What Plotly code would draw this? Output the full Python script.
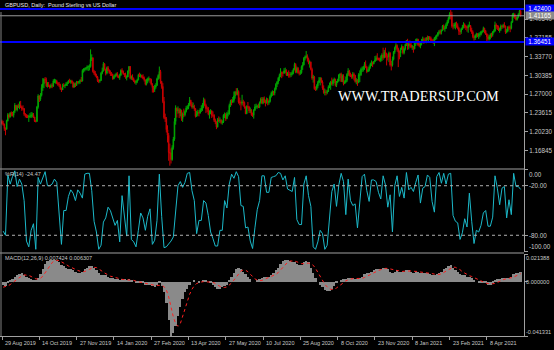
import plotly.graph_objects as go

# ---------------- data (GBPUSD daily) ----------------
FIRST_OPEN = 1.221

CLOSE = [
    1.217, 1.216,
    1.208, 1.207, 1.222, 1.233, 1.229,
    1.236, 1.235, 1.232, 1.239, 1.250,
    1.242, 1.249, 1.247, 1.251, 1.247,
    1.244, 1.244, 1.234, 1.232, 1.229,
    1.229, 1.230, 1.230, 1.233, 1.233,
    1.229, 1.221, 1.221, 1.247, 1.267,
    1.261, 1.268, 1.282, 1.289, 1.297,
    1.296, 1.285, 1.288, 1.285, 1.283,
    1.286, 1.285, 1.294, 1.294, 1.294,
    1.290, 1.288, 1.287, 1.280, 1.278,
    1.286, 1.285, 1.286, 1.289, 1.290,
    1.294, 1.292, 1.294, 1.291, 1.283,
    1.289, 1.286, 1.292, 1.291, 1.293,
    1.295, 1.294, 1.313, 1.315, 1.315,
    1.317, 1.319, 1.320, 1.320, 1.333,
    1.336, 1.311, 1.308, 1.304, 1.301,
    1.294, 1.294, 1.295, 1.308,
    1.312, 1.325, 1.315, 1.308,
    1.318, 1.313, 1.309, 1.307, 1.306,
    1.298, 1.302, 1.304, 1.307, 1.302,
    1.300, 1.304, 1.313, 1.311, 1.307,
    1.306, 1.300, 1.301, 1.312, 1.320,
    1.299, 1.301, 1.298, 1.294, 1.291,
    1.293, 1.296, 1.305, 1.303, 1.304,
    1.301, 1.299, 1.296, 1.288, 1.296,
    1.296, 1.298, 1.297, 1.288, 1.282,
    1.278, 1.283, 1.286, 1.298, 1.304,
    1.311, 1.293, 1.284, 1.257, 1.228,
    1.226, 1.206, 1.196, 1.165, 1.164,
    1.152, 1.174, 1.189, 1.221, 1.245,
    1.240, 1.242, 1.236, 1.241, 1.226,
    1.234, 1.233, 1.239, 1.245, 1.246,
    1.251, 1.259, 1.252, 1.247, 1.248,
    1.244, 1.230, 1.235, 1.237, 1.236,
    1.242, 1.244, 1.251, 1.259, 1.250,
    1.244, 1.244, 1.234, 1.235, 1.240,
    1.232, 1.232, 1.223, 1.220, 1.211,
    1.224, 1.222, 1.223, 1.219, 1.220,
    1.232, 1.233, 1.226, 1.235, 1.235,
    1.250, 1.257, 1.256, 1.259, 1.267,
    1.274, 1.270, 1.275, 1.256, 1.255,
    1.254, 1.256, 1.255, 1.247, 1.235,
    1.248, 1.247, 1.240, 1.241, 1.233,
    1.232, 1.241, 1.247, 1.248, 1.248,
    1.247, 1.255, 1.261, 1.254, 1.262,
    1.256, 1.255, 1.261, 1.255, 1.257,
    1.266, 1.272, 1.274, 1.272, 1.279,
    1.288, 1.292, 1.299, 1.304, 1.309,
    1.308, 1.308, 1.312, 1.313, 1.305,
    1.306, 1.305, 1.305, 1.307, 1.309,
    1.315, 1.324, 1.310, 1.317, 1.309,
    1.308, 1.309, 1.320, 1.323, 1.335,
    1.337, 1.339, 1.334, 1.327, 1.328,
    1.315, 1.299, 1.301, 1.280, 1.279,
    1.285, 1.291, 1.295, 1.299, 1.292,
    1.281, 1.273, 1.274, 1.273, 1.275,
    1.283, 1.286, 1.292, 1.289, 1.295,
    1.297, 1.286, 1.292, 1.294, 1.305,
    1.306, 1.293, 1.303, 1.289, 1.292,
    1.295, 1.306, 1.312, 1.304, 1.304,
    1.302, 1.306, 1.304, 1.293, 1.295,
    1.291, 1.305, 1.305, 1.315, 1.315,
    1.319, 1.324, 1.319, 1.311, 1.313,
    1.319, 1.325, 1.327, 1.325, 1.329,
    1.332, 1.336, 1.334, 1.333, 1.331,
    1.335, 1.341, 1.336, 1.346, 1.344,
    1.338, 1.337, 1.344, 1.323, 1.323,
    1.333, 1.346, 1.354, 1.358, 1.352,
    1.346, 1.344, 1.351, 1.356,
    1.345, 1.352, 1.360, 1.367,
    1.357, 1.361, 1.359, 1.355, 1.356,
    1.352, 1.364, 1.365, 1.369, 1.359,
    1.359, 1.362, 1.365, 1.369, 1.368,
    1.367, 1.372, 1.369, 1.373, 1.371,
    1.367, 1.365, 1.364, 1.371, 1.374,
    1.376, 1.381, 1.383, 1.382, 1.385,
    1.393, 1.388, 1.389, 1.396, 1.401,
    1.407, 1.415, 1.414, 1.393, 1.393,
    1.395, 1.396, 1.394, 1.389, 1.384,
    1.383, 1.388, 1.391, 1.396, 1.393,
    1.391, 1.390, 1.394, 1.394, 1.386,
    1.382, 1.374, 1.372, 1.376, 1.379,
    1.375, 1.378, 1.378, 1.383, 1.383,
    1.389, 1.384, 1.379, 1.374, 1.370,
    1.374, 1.378, 1.377, 1.382, 1.384,
    1.395, 1.393, 1.392, 1.386, 1.387,
    1.393, 1.392, 1.394, 1.393, 1.382,
    1.384, 1.391, 1.390, 1.389, 1.400,
    1.414, 1.414, 1.409, 1.405, 1.409,
    1.415, 1.420, 1.4117,
]

HIGH = [
    1.224, 1.222,
    1.217, 1.210, 1.224, 1.236, 1.235,
    1.238, 1.239, 1.238, 1.240, 1.254,
    1.250, 1.251, 1.253, 1.257, 1.258,
    1.249, 1.250, 1.245, 1.236, 1.234,
    1.233, 1.233, 1.236, 1.238, 1.237,
    1.236, 1.229, 1.224, 1.249, 1.270,
    1.268, 1.272, 1.288, 1.299, 1.299,
    1.301, 1.300, 1.292, 1.292, 1.287,
    1.289, 1.290, 1.297, 1.298, 1.297,
    1.296, 1.292, 1.292, 1.289, 1.282,
    1.289, 1.290, 1.288, 1.292, 1.293,
    1.296, 1.298, 1.296, 1.296, 1.293,
    1.291, 1.291, 1.294, 1.294, 1.294,
    1.297, 1.301, 1.315, 1.317, 1.318,
    1.319, 1.322, 1.322, 1.324, 1.351,
    1.342, 1.336, 1.314, 1.312, 1.307,
    1.303, 1.297, 1.297, 1.310,
    1.318, 1.328, 1.326, 1.316,
    1.320, 1.321, 1.315, 1.313, 1.310,
    1.307, 1.304, 1.307, 1.309, 1.310,
    1.304, 1.307, 1.315, 1.317, 1.313,
    1.308, 1.309, 1.304, 1.313, 1.321,
    1.321, 1.304, 1.306, 1.300, 1.296,
    1.295, 1.298, 1.307, 1.309, 1.307,
    1.305, 1.306, 1.302, 1.296, 1.298,
    1.300, 1.302, 1.299, 1.298, 1.290,
    1.285, 1.287, 1.290, 1.300, 1.306,
    1.320, 1.314, 1.294, 1.290, 1.265,
    1.235, 1.229, 1.214, 1.200, 1.181,
    1.172, 1.178, 1.193, 1.227, 1.250,
    1.246, 1.248, 1.245, 1.244, 1.242,
    1.237, 1.244, 1.241, 1.249, 1.250,
    1.254, 1.265, 1.260, 1.256, 1.255,
    1.251, 1.245, 1.240, 1.242, 1.241,
    1.245, 1.250, 1.254, 1.264, 1.262,
    1.253, 1.248, 1.247, 1.241, 1.243,
    1.241, 1.239, 1.234, 1.226, 1.221,
    1.227, 1.230, 1.228, 1.225, 1.223,
    1.234, 1.237, 1.236, 1.238, 1.241,
    1.253, 1.260, 1.261, 1.265, 1.275,
    1.276, 1.281, 1.281, 1.277, 1.264,
    1.259, 1.269, 1.260, 1.257, 1.248,
    1.250, 1.256, 1.249, 1.246, 1.243,
    1.237, 1.243, 1.252, 1.253, 1.251,
    1.253, 1.257, 1.264, 1.265, 1.265,
    1.266, 1.260, 1.264, 1.263, 1.259,
    1.269, 1.275, 1.277, 1.276, 1.282,
    1.290, 1.294, 1.301, 1.307, 1.317,
    1.311, 1.311, 1.317, 1.318, 1.315,
    1.310, 1.313, 1.310, 1.310, 1.313,
    1.317, 1.327, 1.326, 1.320, 1.319,
    1.313, 1.314, 1.322, 1.328, 1.337,
    1.340, 1.348, 1.342, 1.336, 1.331,
    1.329, 1.318, 1.305, 1.303, 1.284,
    1.288, 1.294, 1.301, 1.301, 1.300,
    1.295, 1.286, 1.280, 1.278, 1.278,
    1.286, 1.291, 1.294, 1.300, 1.297,
    1.300, 1.298, 1.294, 1.298, 1.306,
    1.308, 1.309, 1.306, 1.306, 1.295,
    1.302, 1.308, 1.317, 1.314, 1.309,
    1.306, 1.310, 1.309, 1.305, 1.299,
    1.297, 1.308, 1.313, 1.318, 1.320,
    1.321, 1.328, 1.331, 1.321, 1.316,
    1.322, 1.327, 1.331, 1.329, 1.330,
    1.339, 1.340, 1.344, 1.336, 1.336,
    1.340, 1.344, 1.354, 1.350, 1.354,
    1.344, 1.342, 1.347, 1.346, 1.330,
    1.338, 1.348, 1.356, 1.362, 1.360,
    1.354, 1.349, 1.354, 1.360,
    1.357, 1.354, 1.361, 1.368,
    1.370, 1.364, 1.367, 1.364, 1.359,
    1.356, 1.366, 1.370, 1.371, 1.370,
    1.363, 1.364, 1.370, 1.374, 1.372,
    1.372, 1.373, 1.376, 1.375, 1.375,
    1.374, 1.370, 1.370, 1.373, 1.376,
    1.378, 1.382, 1.386, 1.387, 1.387,
    1.395, 1.396, 1.394, 1.399, 1.404,
    1.410, 1.418, 1.424, 1.419, 1.398,
    1.399, 1.400, 1.401, 1.398, 1.391,
    1.386, 1.390, 1.395, 1.400, 1.398,
    1.395, 1.393, 1.396, 1.401, 1.395,
    1.390, 1.385, 1.376, 1.378, 1.381,
    1.380, 1.381, 1.382, 1.384, 1.386,
    1.392, 1.390, 1.386, 1.380, 1.378,
    1.377, 1.380, 1.381, 1.384, 1.387,
    1.401, 1.398, 1.395, 1.394, 1.390,
    1.396, 1.395, 1.397, 1.400, 1.394,
    1.388, 1.393, 1.394, 1.394, 1.402,
    1.416, 1.417, 1.416, 1.411, 1.410,
    1.416, 1.423, 1.422,
]

LOW = [
    1.215, 1.213,
    1.204, 1.196, 1.206, 1.221, 1.226,
    1.228, 1.230, 1.230, 1.228, 1.236,
    1.241, 1.239, 1.245, 1.243, 1.245,
    1.240, 1.241, 1.231, 1.228, 1.227,
    1.227, 1.220, 1.227, 1.227, 1.228,
    1.227, 1.220, 1.219, 1.220, 1.244,
    1.256, 1.258, 1.266, 1.276, 1.281,
    1.290, 1.283, 1.282, 1.283, 1.280,
    1.281, 1.281, 1.283, 1.290, 1.289,
    1.288, 1.285, 1.283, 1.278, 1.274,
    1.279, 1.283, 1.281, 1.285, 1.285,
    1.289, 1.291, 1.289, 1.289, 1.281,
    1.282, 1.283, 1.285, 1.289, 1.288,
    1.289, 1.292, 1.293, 1.309, 1.311,
    1.313, 1.313, 1.312, 1.313, 1.318,
    1.330, 1.309, 1.305, 1.302, 1.299,
    1.292, 1.290, 1.291, 1.294,
    1.306, 1.311, 1.313, 1.304,
    1.306, 1.312, 1.307, 1.303, 1.303,
    1.296, 1.297, 1.300, 1.302, 1.300,
    1.299, 1.296, 1.304, 1.308, 1.305,
    1.301, 1.298, 1.295, 1.301, 1.307,
    1.297, 1.296, 1.295, 1.292, 1.289,
    1.287, 1.290, 1.295, 1.301, 1.300,
    1.299, 1.297, 1.293, 1.286, 1.286,
    1.290, 1.293, 1.290, 1.286, 1.273,
    1.273, 1.274, 1.280, 1.285, 1.296,
    1.298, 1.289, 1.280, 1.254, 1.225,
    1.220, 1.201, 1.183, 1.150, 1.141,
    1.145, 1.150, 1.170, 1.186, 1.215,
    1.228, 1.235, 1.227, 1.230, 1.222,
    1.220, 1.229, 1.230, 1.237, 1.242,
    1.243, 1.249, 1.248, 1.244, 1.244,
    1.240, 1.228, 1.229, 1.231, 1.230,
    1.235, 1.238, 1.240, 1.245, 1.248,
    1.236, 1.238, 1.232, 1.226, 1.234,
    1.227, 1.229, 1.220, 1.216, 1.207,
    1.210, 1.220, 1.218, 1.216, 1.215,
    1.218, 1.227, 1.222, 1.225, 1.230,
    1.233, 1.247, 1.250, 1.254, 1.255,
    1.262, 1.268, 1.268, 1.253, 1.250,
    1.241, 1.250, 1.248, 1.244, 1.234,
    1.234, 1.244, 1.236, 1.236, 1.231,
    1.229, 1.226, 1.240, 1.244, 1.244,
    1.245, 1.245, 1.253, 1.252, 1.252,
    1.254, 1.248, 1.253, 1.250, 1.251,
    1.255, 1.264, 1.267, 1.268, 1.268,
    1.277, 1.283, 1.288, 1.294, 1.301,
    1.299, 1.302, 1.307, 1.308, 1.303,
    1.303, 1.300, 1.300, 1.301, 1.304,
    1.306, 1.313, 1.308, 1.308, 1.307,
    1.304, 1.305, 1.307, 1.314, 1.322,
    1.331, 1.335, 1.329, 1.324, 1.318,
    1.313, 1.296, 1.291, 1.278, 1.276,
    1.277, 1.281, 1.290, 1.286, 1.290,
    1.278, 1.271, 1.268, 1.268, 1.270,
    1.274, 1.281, 1.278, 1.286, 1.285,
    1.290, 1.284, 1.283, 1.290, 1.293,
    1.299, 1.292, 1.292, 1.286, 1.289,
    1.290, 1.292, 1.303, 1.302, 1.301,
    1.298, 1.298, 1.295, 1.291, 1.288,
    1.285, 1.290, 1.292, 1.303, 1.310,
    1.311, 1.314, 1.317, 1.308, 1.310,
    1.311, 1.316, 1.321, 1.319, 1.324,
    1.328, 1.330, 1.331, 1.331, 1.329,
    1.328, 1.330, 1.332, 1.335, 1.336,
    1.322, 1.331, 1.328, 1.320, 1.313,
    1.320, 1.331, 1.343, 1.350, 1.347,
    1.319, 1.333, 1.337, 1.350,
    1.342, 1.342, 1.349, 1.357,
    1.350, 1.351, 1.354, 1.353, 1.350,
    1.345, 1.351, 1.357, 1.360, 1.357,
    1.355, 1.353, 1.358, 1.362, 1.361,
    1.363, 1.362, 1.367, 1.366, 1.368,
    1.364, 1.363, 1.361, 1.357, 1.368,
    1.369, 1.374, 1.378, 1.378, 1.378,
    1.384, 1.386, 1.383, 1.388, 1.393,
    1.398, 1.405, 1.405, 1.390, 1.387,
    1.389, 1.387, 1.390, 1.387, 1.377,
    1.377, 1.379, 1.386, 1.389, 1.389,
    1.386, 1.383, 1.381, 1.391, 1.383,
    1.379, 1.371, 1.367, 1.368, 1.372,
    1.373, 1.370, 1.373, 1.376, 1.380,
    1.382, 1.380, 1.377, 1.366, 1.367,
    1.367, 1.369, 1.372, 1.374, 1.380,
    1.383, 1.388, 1.386, 1.384, 1.381,
    1.384, 1.388, 1.389, 1.390, 1.379,
    1.380, 1.382, 1.386, 1.382, 1.387,
    1.399, 1.408, 1.406, 1.403, 1.403,
    1.407, 1.413, 1.410,
]

# Williams %R(14), read on every second bar (bars 1, 3, 5, ...)
WPR = [
    -75, -80, -7, -18, -9, -2, -21, -12, -18, -38,
    -87, -94, -74, -66, -97, -10, -18, -9, -3, -20,
    -20, -18, -12, -16, -52, -91, -50, -50, -33, -25,
    -29, -38, -25, -29, -35, -6, -5, -5, -26, -63,
    -76, -97, -92, -64, -59, -46, -50, -58, -68, -62,
    -88, -32, -56, -81, -8, -85, -88, -94, -74, -53,
    -59, -74, -57, -48, -91, -86, -62, -6, -57, -95,
    -94, -91, -87, -82, -55, -20, -15, -22, -16, -5,
    -4, -26, -38, -78, -62, -62, -38, -41, -56, -76,
    -84, -93, -93, -74, -74, -38, -47, -18, -6, -11,
    -3, -9, -44, -45, -71, -70, -87, -96, -71, -49,
    -38, -8, -8, -28, -28, -10, -9, -8, -4, -5,
    -13, -8, -24, -26, -27, -10, -61, -67, -67, -18,
    -8, -32, -45, -94, -97, -88, -74, -78, -97, -92,
    -59, -27, -18, -45, -19, -5, -15, -55, -12, -38,
    -44, -42, -71, -38, -9, -6, -26, -39, -13, -13,
    -15, -28, -36, -8, -19, -46, -31, -76, -20, -8,
    -33, -22, -35, -4, -25, -22, -27, -16, -7, -41,
    -23, -21, -7, -10, -39, -52, -9, -4, -17, -5,
    -18, -6, -5, -56, -63, -65, -85, -77, -60, -70,
    -29, -63, -90, -74, -76, -68, -53, -50, -69, -69,
    -58, -8, -23, -43, -23, -21, -59, -37, -55, -5,
    -21, -21, -24.47,
]

# MACD(12,26,9) main (histogram) and signal, read on every second bar
MACD_MAIN = [
    -0.002, -0.003, -0.001, 0.001, 0.002, 0.004, 0.005, 0.006, 0.0066, 0.0055,
    0.004, 0.003, 0.002, 0.0015, 0.0015, 0.003, 0.006, 0.010, 0.014, 0.016,
    0.017, 0.017, 0.017, 0.016, 0.015, 0.013, 0.012, 0.011, 0.010, 0.010,
    0.009, 0.008, 0.007, 0.007, 0.008, 0.010, 0.011, 0.012, 0.012, 0.011,
    0.009, 0.007, 0.005, 0.005, 0.005, 0.004, 0.003, 0.003, 0.002, 0.002,
    0.001, 0.002, 0.002, 0.001, 0.002, 0.001, 0.000, -0.001, -0.001, -0.001,
    -0.001, -0.002, -0.002, -0.002, -0.003, -0.004, -0.002, -0.001, -0.003, -0.008,
    -0.016, -0.029, -0.0413, -0.039, -0.034, -0.026, -0.019, -0.013, -0.008, -0.005,
    -0.002, 0.000, 0.001, 0.000, -0.001, 0.000, 0.001, 0.001, 0.000, -0.001,
    -0.002, -0.004, -0.005, -0.005, -0.004, -0.003, -0.002, 0.001, 0.004, 0.007,
    0.010, 0.011, 0.010, 0.008, 0.006, 0.004, 0.002, 0.000, 0.000, 0.001,
    0.002, 0.003, 0.004, 0.004, 0.004, 0.005, 0.007, 0.009, 0.011, 0.014,
    0.016, 0.017, 0.017, 0.016, 0.015, 0.015, 0.014, 0.013, 0.013, 0.015,
    0.016, 0.015, 0.011, 0.007, 0.003, 0.000, -0.002, -0.004, -0.006, -0.007,
    -0.007, -0.005, -0.003, -0.001, 0.000, 0.001, 0.002, 0.002, 0.003, 0.003,
    0.003, 0.002, 0.002, 0.003, 0.004, 0.006, 0.007, 0.007, 0.008, 0.009,
    0.010, 0.010, 0.010, 0.011, 0.011, 0.010, 0.008, 0.007, 0.008, 0.009,
    0.008, 0.008, 0.008, 0.009, 0.009, 0.008, 0.007, 0.008, 0.008, 0.007,
    0.007, 0.007, 0.007, 0.006, 0.005, 0.005, 0.006, 0.007, 0.008, 0.010,
    0.011, 0.012, 0.013, 0.011, 0.009, 0.008, 0.006, 0.005, 0.005, 0.004,
    0.004, 0.003, 0.001, 0.000, -0.001, -0.001, -0.001, -0.001, -0.002, -0.002,
    -0.001, 0.001, 0.002, 0.002, 0.003, 0.003, 0.003, 0.003, 0.004, 0.006,
    0.007, 0.007, 0.007424,
]

MACD_SIGNAL = [
    -0.0040, -0.0036, -0.0030, -0.0020, -0.0006, 0.0006, 0.0022, 0.0036, 0.0047, 0.0054,
    0.0054, 0.0050, 0.0042, 0.0032, 0.0024, 0.0022, 0.0028, 0.0044, 0.0069, 0.0098,
    0.0126, 0.0148, 0.0162, 0.0166, 0.0164, 0.0156, 0.0146, 0.0134, 0.0122, 0.0112,
    0.0104, 0.0096, 0.0088, 0.0082, 0.0078, 0.0080, 0.0086, 0.0096, 0.0106, 0.0112,
    0.0110, 0.0102, 0.0088, 0.0074, 0.0062, 0.0052, 0.0044, 0.0040, 0.0034, 0.0028,
    0.0022, 0.0020, 0.0018, 0.0016, 0.0016, 0.0016, 0.0012, 0.0006, 0.0002, -0.0004,
    -0.0008, -0.0012, -0.0014, -0.0016, -0.0020, -0.0026, -0.0026, -0.0024, -0.0026, -0.0036,
    -0.0060, -0.0114, -0.0195, -0.0267, -0.0319, -0.0339, -0.0319, -0.0262, -0.0200, -0.0142,
    -0.0094, -0.0056, -0.0028, -0.0012, -0.0004, 0.0000, 0.0002, 0.0002, 0.0002, 0.0002,
    -0.0002, -0.0012, -0.0024, -0.0034, -0.0040, -0.0042, -0.0038, -0.0026, -0.0008, 0.0014,
    0.0040, 0.0066, 0.0084, 0.0092, 0.0090, 0.0078, 0.0060, 0.0040, 0.0024, 0.0014,
    0.0010, 0.0012, 0.0020, 0.0028, 0.0034, 0.0040, 0.0048, 0.0058, 0.0072, 0.0092,
    0.0114, 0.0134, 0.0150, 0.0160, 0.0162, 0.0160, 0.0154, 0.0146, 0.0140, 0.0140,
    0.0142, 0.0144, 0.0140, 0.0128, 0.0104, 0.0072, 0.0038, 0.0008, -0.0018, -0.0038,
    -0.0052, -0.0058, -0.0056, -0.0046, -0.0032, -0.0016, -0.0002, 0.0008, 0.0016, 0.0022,
    0.0026, 0.0026, 0.0026, 0.0026, 0.0028, 0.0034, 0.0044, 0.0054, 0.0064, 0.0074,
    0.0082, 0.0088, 0.0094, 0.0100, 0.0104, 0.0104, 0.0100, 0.0094, 0.0088, 0.0084,
    0.0080, 0.0080, 0.0082, 0.0084, 0.0084, 0.0084, 0.0082, 0.0082, 0.0080, 0.0076,
    0.0074, 0.0074, 0.0072, 0.0068, 0.0064, 0.0060, 0.0058, 0.0058, 0.0062, 0.0072,
    0.0084, 0.0096, 0.0108, 0.0114, 0.0112, 0.0106, 0.0094, 0.0078, 0.0066, 0.0056,
    0.0048, 0.0042, 0.0034, 0.0024, 0.0014, 0.0004, -0.0004, -0.0008, -0.0012, -0.0014,
    -0.0014, -0.0010, -0.0004, 0.0004, 0.0014, 0.0022, 0.0026, 0.0028, 0.0032, 0.0038,
    0.0046, 0.0054, 0.006307,
]

DATE_LABELS = ["29 Aug 2019", "14 Oct 2019", "27 Nov 2019", "14 Jan 2020", "27 Feb 2020",
               "13 Apr 2020", "27 May 2020", "10 Jul 2020", "25 Aug 2020", "8 Oct 2020",
               "23 Nov 2020", "8 Jan 2021", "23 Feb 2021", "8 Apr 2021"]
DATE_LABEL_BARS = [0, 32, 64, 96, 128, 160, 192, 224, 256, 288, 320, 352, 384, 416]

PRICE_TICKS = [1.40540, 1.37155, 1.33770, 1.30385, 1.27000, 1.23615, 1.20230, 1.16845]
WPR_TICKS = [0, -20, -80, -100]
WPR_LEVELS = [-20, -80]
MACD_MAX = 0.021388
MACD_MIN = -0.041331
LEVEL_HIGH = 1.42400
LEVEL_LOW = 1.36451
BID = 1.41165

# ---------------- geometry / styling ----------------
W, H = 554, 350
PLOT_RIGHT = 524          # px, right price axis
PX_PER_BAR = 1.1655
FIRST_BAR_PX = 2.0
MAIN_TOP_PRICE = 1.44011
MAIN_BOT_PRICE = 1.13596

def py(p):  # pixel row -> paper fraction
    return 1 - p / H

FONT = "Liberation Sans"
TXT = "#c8c8c8"
AXC = "#a0a0a0"

bars = list(range(len(CLOSE)))
opens = [FIRST_OPEN] + CLOSE[:-1]
ind_bars = list(range(1, len(CLOSE), 2))

fig = go.Figure()

fig.add_trace(go.Candlestick(
    x=bars, open=opens, high=HIGH, low=LOW, close=CLOSE,
    xaxis="x", yaxis="y3", whiskerwidth=0, hoverinfo="skip",
    increasing=dict(line=dict(color="#00a800", width=1), fillcolor="#00a800"),
    decreasing=dict(line=dict(color="#c80000", width=1), fillcolor="#c80000"),
))

fig.add_trace(go.Scatter(
    x=ind_bars[:len(WPR)], y=WPR, mode="lines", xaxis="x", yaxis="y2",
    line=dict(color="#1cb8c8", width=1), hoverinfo="skip",
))

fig.add_trace(go.Bar(
    x=ind_bars[:len(MACD_MAIN)], y=MACD_MAIN, width=2, xaxis="x", yaxis="y",
    marker=dict(color="#8a8a8a", line=dict(width=0)), hoverinfo="skip",
))
fig.add_trace(go.Scatter(
    x=ind_bars[:len(MACD_SIGNAL)], y=MACD_SIGNAL, mode="lines", xaxis="x", yaxis="y",
    line=dict(color="#ff2020", width=1, dash="dot"), hoverinfo="skip",
))

x_lo = -FIRST_BAR_PX / PX_PER_BAR
x_hi = (PLOT_RIGHT - FIRST_BAR_PX) / PX_PER_BAR
xdom = [0, PLOT_RIGHT / W]

common_y = dict(side="right", anchor="x", showgrid=False, zeroline=False,
                showline=True, linecolor=AXC, linewidth=1, ticks="outside",
                ticklen=3, tickcolor=AXC, fixedrange=True)

fig.update_layout(
    width=W, height=H, margin=dict(l=0, r=0, t=0, b=0),
    paper_bgcolor="black", plot_bgcolor="black", showlegend=False,
    bargap=0,
    xaxis=dict(domain=xdom, range=[x_lo, x_hi], anchor="y", showgrid=False,
               zeroline=False, showline=True, linecolor=AXC, ticks="outside",
               ticklen=3, tickcolor=AXC, tickvals=DATE_LABEL_BARS,
               showticklabels=False, rangeslider=dict(visible=False), fixedrange=True),
    yaxis=dict(domain=[py(336), py(254)], range=[MACD_MIN, MACD_MAX],
               tickvals=[MACD_MAX, 0, MACD_MIN], showticklabels=False, **common_y),
    yaxis2=dict(domain=[py(251.8), py(169.2)], range=[-100, 0],
                tickvals=WPR_TICKS, showticklabels=False, **common_y),
    yaxis3=dict(domain=[py(168.5), 1.0], range=[MAIN_BOT_PRICE, MAIN_TOP_PRICE],
                tickvals=PRICE_TICKS, ticktext=["%.5f" % v for v in PRICE_TICKS],
                tickfont=dict(family=FONT, size=6.3, color=TXT), **common_y),
)

shapes = []
# horizontal levels on the price chart
for lvl, col, wd in [(LEVEL_HIGH, "#0000ff", 2), (LEVEL_LOW, "#0000ff", 2), (BID, "#9a9a9a", 1)]:
    shapes.append(dict(type="line", xref="x domain", yref="y3", x0=0, x1=1, y0=lvl, y1=lvl,
                       line=dict(color=col, width=wd)))
# %R levels
for lvl in WPR_LEVELS:
    shapes.append(dict(type="line", xref="x domain", yref="y2", x0=0, x1=1, y0=lvl, y1=lvl,
                       line=dict(color="#b0b0b0", width=1, dash="dot")))
# panel separators and left border
for yy in (169, 253):
    shapes.append(dict(type="line", xref="paper", yref="paper", x0=0, x1=PLOT_RIGHT / W,
                       y0=py(yy), y1=py(yy), line=dict(color=AXC, width=1)))
shapes.append(dict(type="line", xref="paper", yref="paper", x0=1 / W, x1=1 / W,
                   y0=py(336), y1=py(12), line=dict(color="#808080", width=1)))
fig.update_layout(shapes=shapes)

ann = []
small = dict(family=FONT, size=5.5, color=TXT)
lab = dict(family=FONT, size=6.3, color=TXT)
macd_lab = dict(family=FONT, size=5.6, color=TXT)
# title and indicator captions
ann.append(dict(xref="paper", yref="paper", x=3 / W, y=py(5), text="GBPUSD, Daily:  Pound Sterling vs US Dollar",
                showarrow=False, xanchor="left", yanchor="middle", font=dict(family=FONT, size=5.5, color="#e8e8e8")))
ann.append(dict(xref="paper", yref="paper", x=3 / W, y=py(174), text="%R(14) " + "%.2f" % WPR[-1],
                showarrow=False, xanchor="left", yanchor="middle", font=small))
ann.append(dict(xref="paper", yref="paper", x=3 / W, y=py(258),
                text="MACD(12,26,9) %.6f %.6f" % (MACD_MAIN[-1], MACD_SIGNAL[-1]),
                showarrow=False, xanchor="left", yanchor="middle", font=small))
# watermark
ann.append(dict(xref="paper", yref="paper", x=418 / W, y=py(96), text="WWW.TRADERSUP.COM",
                showarrow=False, xanchor="center", yanchor="middle",
                font=dict(family="Liberation Serif", size=14.3, color="white")))
# date labels
for b, t in zip(DATE_LABEL_BARS, DATE_LABELS):
    ann.append(dict(xref="x", yref="paper", x=b, y=py(343), text=t, showarrow=False,
                    xanchor="left", yanchor="middle", xshift=1, font=small))
# %R labels
for v in WPR_TICKS:
    anc = "top" if v == 0 else ("bottom" if v == -100 else "middle")
    ann.append(dict(xref="paper", yref="y2", x=PLOT_RIGHT / W, y=v, text="%.2f" % v,
                    showarrow=False, xanchor="left", yanchor=anc, xshift=3, font=lab))
# MACD labels
for v, anc in [(MACD_MAX, "top"), (0, "middle"), (MACD_MIN, "bottom")]:
    ann.append(dict(xref="paper", yref="y", x=PLOT_RIGHT / W, y=v, text="%.6f" % v,
                    showarrow=False, xanchor="left", yanchor=anc, xshift=1, font=macd_lab,
                    borderpad=0))
# price boxes on the right axis
for v, bg in [(LEVEL_HIGH, "#0000ff"), (BID, "#8c8c8c"), (LEVEL_LOW, "#0000ff")]:
    ann.append(dict(xref="paper", yref="y3", x=PLOT_RIGHT / W, y=v, text="%.5f" % v,
                    showarrow=False, xanchor="left", yanchor="middle", xshift=1,
                    bgcolor=bg, borderpad=0, width=28,
                    font=dict(family=FONT, size=6.3, color="white")))
fig.update_layout(annotations=ann)

fig.write_html("out.html")
